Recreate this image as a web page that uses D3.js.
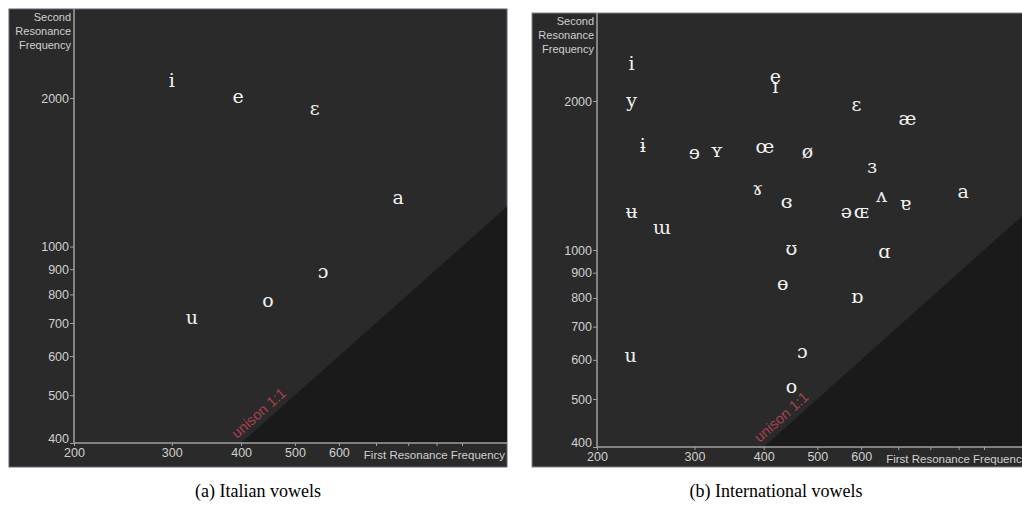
<!DOCTYPE html>
<html>
<head>
<meta charset="utf-8">
<script src="https://cdn.jsdelivr.net/npm/d3@7"></script>
<style>
  html, body { margin: 0; padding: 0; background: #ffffff; }
  svg { display: block; }
</style>
</head>
<body>
<svg id="chart" width="1022" height="510"></svg>
<script>
// ---------- data ----------
const italianVowels = ["i", "e", "ɛ", "a", "ɔ", "o", "u"];
const italianF1 = [300, 395, 543, 767, 562, 447, 326];
const italianF2 = [2160, 2010, 1893, 1250, 889, 776, 717];

const intlVowels = ["i", "y", "ɨ", "ɘ", "ʏ", "œ", "ɤ", "ʉ", "ɯ", "e", "ɪ", "ɛ", "æ", "ø", "ɜ", "ʌ", "ɐ", "a", "ɞ", "ə", "ɶ", "ʊ", "ɑ", "ɵ", "ɒ", "ɔ", "o", "u"];
const intlF1 = [231, 231, 242, 300, 329, 402, 390, 231, 262, 420, 420, 588, 727, 480, 628, 653, 721, 917, 440, 564, 600, 449, 661, 433, 590, 470, 449, 230];
const intlF2 = [2373, 1996, 1619, 1568, 1582, 1613, 1325, 1191, 1105, 2233, 2132, 1961, 1836, 1575, 1469, 1283, 1236, 1307, 1247, 1191, 1191, 1002, 988, 851, 801, 620, 529, 611];

const yTickValues = [400, 500, 600, 700, 800, 900, 1000, 2000];
const xTickValues = [200, 300, 400, 500, 600, 700, 800, 900, 1000];
const xTickLabels = [200, 300, 400, 500, 600];

const yAxisTitle = ["Second", "Resonance", "Frequency"];
const xAxisTitle = "First Resonance Frequency";
const unisonLabel = "unison 1:1";
const captions = ["(a) Italian vowels", "(b) International vowels"];

// ---------- drawing ----------
const svg = d3.select("#chart");

function drawPanel(cfg, vowels, f1, f2, caption) {
  const g = svg.append("g");
  const x = d3.scaleLog().domain([200, 1000]).range([cfg.x200, cfg.x1000]);
  const y = d3.scaleLog().domain([400, 2000]).range([cfg.y400, cfg.y2000]);
  const right = cfg.left + cfg.w;

  const clipId = "clip" + cfg.id;
  svg.append("clipPath").attr("id", clipId)
    .append("rect").attr("x", cfg.x200).attr("y", cfg.top)
    .attr("width", right - cfg.x200).attr("height", cfg.y400 - cfg.top);

  // panel background
  g.append("rect").attr("x", cfg.left).attr("y", cfg.top)
    .attr("width", cfg.w).attr("height", cfg.h)
    .attr("fill", "#2a2a2a").attr("stroke", cfg.border).attr("stroke-width", 1);

  // area below unison (F2 < F1)
  const fRight = x.invert(right);
  g.append("polygon")
    .attr("clip-path", `url(#${clipId})`)
    .attr("points", [
      [x(400), y(400)],
      [right, y(fRight)],
      [right, y(400)]
    ].map(p => p.join(",")).join(" "))
    .attr("fill", "#1a1a1a");

  // unison label along the line
  const ang = Math.atan2(y(1000) - y(400), x(1000) - x(400)) * 180 / Math.PI;
  const lx = x(400) - 4, ly = y(400) - 4;
  g.append("text")
    .attr("transform", `translate(${lx},${ly}) rotate(${ang})`)
    .attr("font-family", "Liberation Sans, Arial, sans-serif")
    .attr("font-size", 14.5)
    .attr("fill", "#a8424c")
    .text(unisonLabel);

  // axes
  const yAxis = d3.axisLeft(y).tickValues(yTickValues).tickFormat(d3.format("d")).tickSize(4).tickPadding(1);
  const ya = g.append("g").attr("transform", `translate(${cfg.x200},0)`).call(yAxis);
  ya.select(".domain").attr("d", `M0,${cfg.top}V${cfg.y400}`);

  const xAxis = d3.axisBottom(x).tickValues(xTickValues)
    .tickFormat(d => xTickLabels.includes(d) ? String(d) : "").tickSize(3).tickPadding(2);
  const xa = g.append("g").attr("transform", `translate(0,${cfg.y400})`).call(xAxis);
  xa.select(".domain").attr("d", `M${cfg.x200},0H${right}`);

  [ya, xa].forEach(a => {
    a.selectAll(".domain").attr("stroke", "#a0a0a0").attr("stroke-width", 1.5);
    a.selectAll(".tick line").attr("stroke", "#a0a0a0");
    a.selectAll(".tick text").attr("fill", "#d0d0d0")
      .attr("font-family", "Liberation Sans, Arial, sans-serif").attr("font-size", 12.5);
  });
  ya.selectAll(".tick text").filter(d => d === 400).attr("dy", "-0.05em");

  // axis titles
  g.append("text").attr("x", x(600) + 25).attr("y", cfg.y400 + 16)
    .attr("font-family", "Liberation Sans, Arial, sans-serif").attr("font-size", 11.5)
    .attr("fill", "#d0d0d0").text(xAxisTitle);

  const yt = g.append("text").attr("font-family", "Liberation Sans, Arial, sans-serif")
    .attr("font-size", 11).attr("fill", "#d0d0d0").attr("text-anchor", "end");
  yAxisTitle.forEach((t, i) => {
    yt.append("tspan").attr("x", cfg.x200 - 3).attr("y", cfg.top + 12 + i * 14).text(t);
  });

  // vowels
  g.append("g").selectAll("text").data(vowels).join("text")
    .attr("x", (d, i) => x(f1[i]))
    .attr("y", (d, i) => y(f2[i]))
    .attr("dy", "0.3em")
    .attr("text-anchor", "middle")
    .attr("font-family", "DejaVu Serif, serif")
    .attr("font-size", 19)
    .attr("fill", "#f2f2f2")
    .text(d => d);

  // caption
  svg.append("text").attr("x", cfg.capX).attr("y", 497)
    .attr("text-anchor", "middle")
    .attr("font-family", "Liberation Serif, serif")
    .attr("font-size", 18).attr("fill", "#000")
    .text(caption);
}

drawPanel({ id: "a", left: 9, top: 9, w: 498, h: 458, x200: 74, x1000: 462, y400: 443, y2000: 98, border: "#6a5a7a", capX: 258 },
  italianVowels, italianF1, italianF2, captions[0]);
drawPanel({ id: "b", left: 532, top: 13, w: 495, h: 454, x200: 597, x1000: 984, y400: 447, y2000: 101, border: "#888888", capX: 776 },
  intlVowels, intlF1, intlF2, captions[1]);
</script>
</body>
</html>
